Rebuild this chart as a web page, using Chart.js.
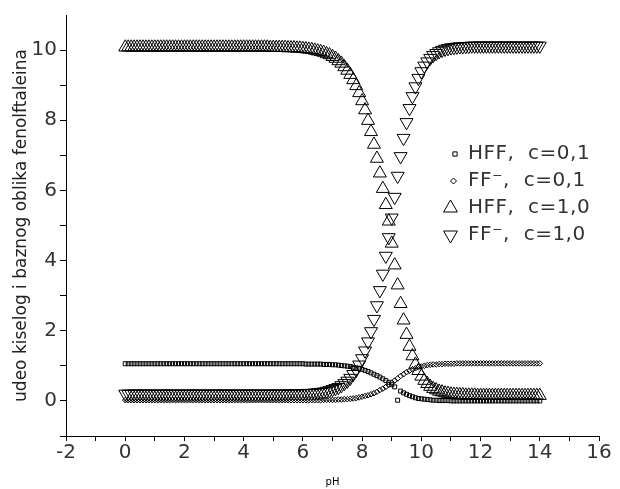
<!DOCTYPE html>
<html>
<head>
<meta charset="utf-8">
<script src="https://cdn.jsdelivr.net/npm/chart.js@4.4.1/dist/chart.umd.min.js"></script>
<style>
  html, body { margin: 0; padding: 0; background: #fff; }
  #wrap { width: 620px; height: 489px; }
</style>
</head>
<body>
<div id="wrap"><canvas id="chartFenol" width="620" height="489"></canvas></div>
<script>
// pH values (x) shared by all four series
const pH = [
  0, 0.1, 0.2, 0.3, 0.4, 0.5, 0.6, 0.7, 0.8, 0.9,
  1, 1.1, 1.2, 1.3, 1.4, 1.5, 1.6, 1.7, 1.8, 1.9,
  2, 2.1, 2.2, 2.3, 2.4, 2.5, 2.6, 2.7, 2.8, 2.9,
  3, 3.1, 3.2, 3.3, 3.4, 3.5, 3.6, 3.7, 3.8, 3.9,
  4, 4.1, 4.2, 4.3, 4.4, 4.5, 4.6, 4.7, 4.8, 4.9,
  5, 5.1, 5.2, 5.3, 5.4, 5.5, 5.6, 5.7, 5.8, 5.9,
  6, 6.1, 6.2, 6.3, 6.4, 6.5, 6.6, 6.7, 6.8, 6.9,
  7, 7.1, 7.2, 7.3, 7.4, 7.5, 7.6, 7.7, 7.8, 7.9,
  8, 8.1, 8.2, 8.3, 8.4, 8.5, 8.6, 8.7, 8.8, 8.9,
  9, 9.1, 9.2, 9.3, 9.4, 9.5, 9.6, 9.7, 9.8, 9.9,
  10, 10.1, 10.2, 10.3, 10.4, 10.5, 10.6, 10.7, 10.8, 10.9,
  11, 11.1, 11.2, 11.3, 11.4, 11.5, 11.6, 11.7, 11.8, 11.9,
  12, 12.1, 12.2, 12.3, 12.4, 12.5, 12.6, 12.7, 12.8, 12.9,
  13, 13.1, 13.2, 13.3, 13.4, 13.5, 13.6, 13.7, 13.8, 13.9,
  14
];

// HFF, c=0,1  (squares)
const hffSmall = [
  1.06, 1.06, 1.06, 1.06, 1.06, 1.06, 1.06, 1.06, 1.06, 1.06,
  1.06, 1.06, 1.06, 1.06, 1.06, 1.06, 1.06, 1.06, 1.06, 1.06,
  1.06, 1.06, 1.06, 1.06, 1.06, 1.06, 1.06, 1.06, 1.06, 1.06,
  1.06, 1.06, 1.06, 1.06, 1.06, 1.06, 1.06, 1.06, 1.06, 1.06,
  1.06, 1.06, 1.06, 1.06, 1.06, 1.06, 1.06, 1.06, 1.06, 1.06,
  1.06, 1.06, 1.06, 1.06, 1.06, 1.06, 1.06, 1.06, 1.06, 1.06,
  1.06, 1.05, 1.05, 1.05, 1.05, 1.05, 1.05, 1.04, 1.04, 1.04,
  1.03, 1.03, 1.02, 1.01, 1.00, 0.99, 0.98, 0.96, 0.94, 0.92,
  0.90, 0.87, 0.84, 0.80, 0.76, 0.72, 0.68, 0.63, 0.58, 0.53,
  0.46, 0.40, 0.02, 0.28, 0.23, 0.19, 0.15, 0.12, 0.09, 0.07,
  0.06, 0.05, 0.04, 0.03, 0.02, 0.02, 0.01, 0.01, 0.01, 0.01,
  0.00, 0.00, 0.00, 0.00, 0.00, 0.00, 0.00, 0.00, 0.00, 0.00,
  0.00, 0.00, 0.00, 0.00, 0.00, 0.00, 0.00, 0.00, 0.00, 0.00,
  0.00, 0.00, 0.00, 0.00, 0.00, 0.00, 0.00, 0.00, 0.00, 0.00,
  0.00
];

// FF-, c=0,1  (diamonds)
const ffSmall = [
  0.02, 0.02, 0.02, 0.02, 0.02, 0.02, 0.02, 0.02, 0.02, 0.02,
  0.02, 0.02, 0.02, 0.02, 0.02, 0.02, 0.02, 0.02, 0.02, 0.02,
  0.02, 0.02, 0.02, 0.02, 0.02, 0.02, 0.02, 0.02, 0.02, 0.02,
  0.02, 0.02, 0.02, 0.02, 0.02, 0.02, 0.02, 0.02, 0.02, 0.02,
  0.02, 0.02, 0.02, 0.02, 0.02, 0.02, 0.02, 0.02, 0.02, 0.02,
  0.02, 0.02, 0.02, 0.02, 0.02, 0.02, 0.02, 0.02, 0.02, 0.02,
  0.02, 0.02, 0.02, 0.02, 0.02, 0.02, 0.02, 0.03, 0.03, 0.03,
  0.03, 0.03, 0.04, 0.04, 0.05, 0.05, 0.06, 0.07, 0.08, 0.10,
  0.12, 0.14, 0.16, 0.19, 0.22, 0.26, 0.31, 0.35, 0.40, 0.46,
  0.52, 0.58, 0.64, 0.71, 0.76, 0.82, 0.86, 0.90, 0.93, 0.96,
  0.98, 1.00, 1.02, 1.03, 1.04, 1.04, 1.05, 1.05, 1.06, 1.06,
  1.06, 1.06, 1.07, 1.07, 1.07, 1.07, 1.07, 1.07, 1.07, 1.07,
  1.07, 1.07, 1.07, 1.07, 1.07, 1.07, 1.07, 1.07, 1.07, 1.07,
  1.07, 1.07, 1.07, 1.07, 1.07, 1.07, 1.07, 1.07, 1.07, 1.07,
  1.07
];

// HFF, c=1,0  (triangles up)
const hffBig = [
  10.08, 10.08, 10.08, 10.08, 10.08, 10.08, 10.08, 10.08, 10.08, 10.08,
  10.08, 10.08, 10.08, 10.08, 10.08, 10.08, 10.08, 10.08, 10.08, 10.08,
  10.08, 10.08, 10.08, 10.08, 10.08, 10.08, 10.08, 10.08, 10.08, 10.08,
  10.08, 10.08, 10.08, 10.08, 10.08, 10.08, 10.08, 10.08, 10.08, 10.08,
  10.08, 10.08, 10.08, 10.08, 10.08, 10.08, 10.08, 10.08, 10.08, 10.07,
  10.07, 10.07, 10.07, 10.07, 10.07, 10.06, 10.06, 10.06, 10.05, 10.05,
  10.04, 10.03, 10.02, 10.01, 9.99, 9.97, 9.95, 9.93, 9.89, 9.86,
  9.81, 9.76, 9.69, 9.62, 9.52, 9.42, 9.30, 9.15, 8.98, 8.78,
  8.55, 8.29, 7.99, 7.67, 7.31, 6.91, 6.49, 6.05, 5.59, 5.12,
  4.49, 3.87, 3.30, 2.77, 2.30, 1.89, 1.55, 1.28, 1.04, 0.86,
  0.70, 0.58, 0.49, 0.41, 0.35, 0.31, 0.27, 0.25, 0.22, 0.21,
  0.19, 0.18, 0.18, 0.17, 0.17, 0.16, 0.16, 0.16, 0.16, 0.15,
  0.15, 0.15, 0.15, 0.15, 0.15, 0.15, 0.15, 0.15, 0.15, 0.15,
  0.15, 0.15, 0.15, 0.15, 0.15, 0.15, 0.15, 0.15, 0.15, 0.15,
  0.15
];

// FF-, c=1,0  (triangles down)
const ffBig = [
  0.20, 0.20, 0.20, 0.20, 0.20, 0.20, 0.20, 0.20, 0.20, 0.20,
  0.20, 0.20, 0.20, 0.20, 0.20, 0.20, 0.20, 0.20, 0.20, 0.20,
  0.20, 0.20, 0.20, 0.20, 0.20, 0.20, 0.20, 0.20, 0.20, 0.20,
  0.20, 0.20, 0.20, 0.20, 0.20, 0.20, 0.20, 0.20, 0.20, 0.20,
  0.20, 0.20, 0.20, 0.20, 0.20, 0.20, 0.20, 0.20, 0.20, 0.20,
  0.20, 0.20, 0.20, 0.20, 0.20, 0.20, 0.21, 0.21, 0.21, 0.21,
  0.21, 0.22, 0.22, 0.22, 0.23, 0.24, 0.25, 0.26, 0.28, 0.30,
  0.33, 0.36, 0.39, 0.44, 0.50, 0.57, 0.65, 0.76, 0.88, 1.03,
  1.21, 1.43, 1.69, 1.98, 2.33, 2.72, 3.15, 3.62, 4.13, 4.66,
  5.22, 5.81, 6.41, 6.97, 7.49, 7.94, 8.34, 8.68, 8.96, 9.20,
  9.39, 9.55, 9.67, 9.77, 9.85, 9.91, 9.96, 10.00, 10.03, 10.05,
  10.07, 10.08, 10.09, 10.10, 10.10, 10.11, 10.11, 10.12, 10.12, 10.12,
  10.12, 10.12, 10.12, 10.12, 10.12, 10.12, 10.12, 10.12, 10.12, 10.12,
  10.12, 10.12, 10.12, 10.12, 10.12, 10.12, 10.12, 10.12, 10.12, 10.12,
  10.12
];

const xTicks = [-2, -1, 0, 1, 2, 3, 4, 5, 6, 7, 8, 9, 10, 11, 12, 13, 14, 15, 16];
const yTicks = [-1, 0, 1, 2, 3, 4, 5, 6, 7, 8, 9, 10];
const legendLabels = ['HFF,  c=0,1', 'FF\u207B,  c=0,1', 'HFF,  c=1,0', 'FF\u207B,  c=1,0'];

const toPoints = (ys) => pH.map((x, i) => ({ x: x, y: ys[i] }));

const markerSpecs = [
  { style: 'rect', radius: 2.8, rotation: 0 },
  { style: 'rectRot', radius: 2.8, rotation: 0 },
  { style: 'triangle', radius: 7.5, rotation: 0 },
  { style: 'triangle', radius: 7.5, rotation: 180 }
];
const seriesValues = [hffSmall, ffSmall, hffBig, ffBig];

const datasets = seriesValues.map((vals, i) => ({
  label: legendLabels[i],
  data: toPoints(vals),
  pointStyle: markerSpecs[i].style,
  pointRadius: markerSpecs[i].radius,
  pointRotation: markerSpecs[i].rotation,
  pointBorderColor: '#000',
  pointBackgroundColor: 'rgba(0,0,0,0)',
  pointBorderWidth: 1,
  showLine: false
}));

// own drawing of legend symbols, same shapes chart.js uses
function drawSymbol(ctx, style, x, y, r, rot) {
  ctx.beginPath();
  if (style === 'rect') {
    const s = Math.SQRT1_2 * r;
    ctx.rect(x - s, y - s, 2 * s, 2 * s);
  } else if (style === 'rectRot') {
    ctx.moveTo(x, y - r);
    ctx.lineTo(x + r, y);
    ctx.lineTo(x, y + r);
    ctx.lineTo(x - r, y);
    ctx.closePath();
  } else {
    let a = rot * Math.PI / 180;
    for (let k = 0; k < 3; k++) {
      const px = x + Math.sin(a) * r;
      const py = y - Math.cos(a) * r;
      if (k === 0) ctx.moveTo(px, py); else ctx.lineTo(px, py);
      a += 2 * Math.PI / 3;
    }
    ctx.closePath();
  }
  ctx.stroke();
}

const legendPlugin = {
  id: 'insideLegend',
  afterDraw(chart) {
    const ctx = chart.ctx;
    const rows = [154, 181, 208, 235];
    const symX = [455, 453.5, 450.5, 450.5];
    ctx.save();
    ctx.strokeStyle = '#000';
    ctx.lineWidth = 1;
    ctx.fillStyle = '#333';
    ctx.font = '20px "DejaVu Sans"';
    ctx.textBaseline = 'middle';
    ctx.textAlign = 'left';
    if ('letterSpacing' in ctx) ctx.letterSpacing = '0.5px';
    legendLabels.forEach((txt, i) => {
      const m = markerSpecs[i];
      const r = m.style === 'triangle' ? 8 : 3;
      drawSymbol(ctx, m.style, symX[i], rows[i], r, m.rotation);
      ctx.fillText(txt, 468, rows[i]);
    });
    ctx.restore();
  }
};

Chart.defaults.font.family = '"DejaVu Sans", sans-serif';

const contFenol = document.getElementById('chartFenol');
const configFenol = {
  type: 'scatter',
  data: { datasets: datasets },
  options: {
    responsive: false,
    animation: false,
    layout: { padding: { top: 13, right: 21, left: 0, bottom: 0 } },
    plugins: {
      legend: { display: false },
      tooltip: { enabled: false }
    },
    scales: {
      x: {
        type: 'linear',
        min: -2,
        max: 16,
        afterBuildTicks: (scale) => { scale.ticks = xTicks.map(v => ({ value: v })); },
        afterFit: (scale) => { scale.height = 53; },
        grid: { drawOnChartArea: false, drawTicks: true, tickLength: 5, color: '#000', lineWidth: 1 },
        border: { display: true, color: '#000', width: 1 },
        ticks: {
          autoSkip: false,
          maxRotation: 0,
          padding: 0,
          color: '#333',
          font: { size: 20 },
          callback: (v) => (v % 2 === 0 ? String(v) : '')
        },
        title: {
          display: true,
          text: 'pH',
          color: '#000',
          font: { size: 10 },
          padding: { top: 0, bottom: 1 }
        }
      },
      y: {
        type: 'linear',
        min: -1,
        max: 11,
        afterBuildTicks: (scale) => { scale.ticks = yTicks.map(v => ({ value: v })); },
        afterFit: (scale) => { scale.width = 66; },
        grid: { drawOnChartArea: false, drawTicks: true, tickLength: 6, color: '#000', lineWidth: 1 },
        border: { display: true, color: '#000', width: 1 },
        ticks: {
          autoSkip: false,
          padding: 3,
          color: '#333',
          font: { size: 20 },
          callback: (v) => (v % 2 === 0 && v >= 0 ? String(v) : '')
        },
        title: {
          display: true,
          text: 'udeo kiselog i baznog oblika fenolftaleina',
          color: '#222',
          font: { size: 17 },
          padding: { top: 11, bottom: 0 }
        }
      }
    }
  },
  plugins: [legendPlugin]
};

const chartFenol = new Chart(contFenol, configFenol);
</script>
</body>
</html>
